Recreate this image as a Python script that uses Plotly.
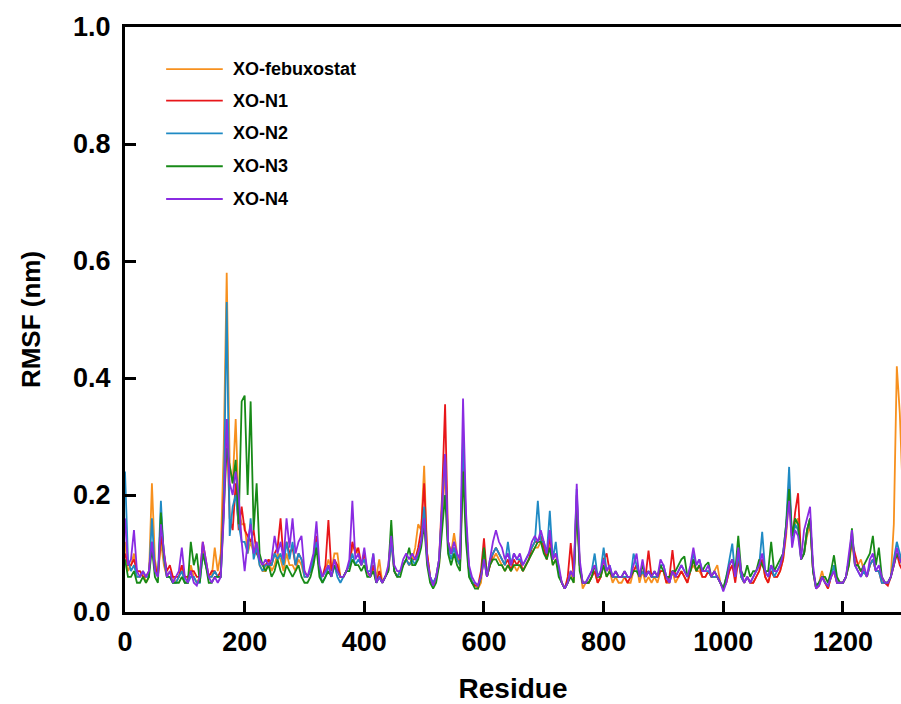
import plotly.graph_objects as go

# Residue grid (every 5th residue)
residue = list(range(0, 1301, 5))

series_names = ["XO-febuxostat", "XO-N1", "XO-N2", "XO-N3", "XO-N4"]
series_colors = ["#F7901E", "#E8161A", "#1F8AC4", "#178A17", "#8A2BE2"]

rmsf_febuxostat = [
    0.12,0.07,0.08,0.10,0.06,0.06,0.07,0.05,0.06,0.22,0.09,0.06,0.12,0.08,0.06,0.07,0.06,0.05,0.06,0.08,
    0.05,0.05,0.08,0.06,0.05,0.06,0.11,0.08,0.06,0.06,0.11,0.07,0.10,0.28,0.58,0.25,0.22,0.33,0.18,0.15,
    0.15,0.10,0.12,0.10,0.12,0.08,0.07,0.07,0.09,0.07,0.08,0.10,0.09,0.07,0.10,0.08,0.08,0.07,0.09,0.08,
    0.06,0.06,0.07,0.09,0.12,0.07,0.06,0.07,0.09,0.07,0.10,0.10,0.06,0.06,0.07,0.08,0.11,0.11,0.10,0.08,
    0.09,0.07,0.06,0.08,0.06,0.09,0.05,0.06,0.07,0.12,0.07,0.06,0.07,0.08,0.09,0.08,0.09,0.11,0.15,0.14,
    0.25,0.10,0.06,0.045,0.06,0.08,0.16,0.24,0.12,0.10,0.135,0.10,0.08,0.26,0.14,0.07,0.05,0.045,0.04,0.05,
    0.10,0.06,0.08,0.09,0.10,0.09,0.08,0.07,0.08,0.07,0.08,0.07,0.08,0.07,0.08,0.09,0.10,0.11,0.11,0.12,
    0.11,0.09,0.12,0.08,0.09,0.07,0.05,0.04,0.05,0.07,0.05,0.19,0.08,0.04,0.05,0.05,0.06,0.07,0.05,0.06,
    0.08,0.06,0.07,0.05,0.06,0.05,0.05,0.06,0.05,0.05,0.07,0.08,0.05,0.07,0.05,0.06,0.05,0.06,0.05,0.07,
    0.07,0.05,0.05,0.07,0.05,0.06,0.07,0.06,0.05,0.07,0.08,0.07,0.07,0.06,0.06,0.07,0.06,0.07,0.08,0.05,
    0.04,0.05,0.07,0.08,0.06,0.09,0.06,0.05,0.06,0.05,0.05,0.06,0.07,0.09,0.06,0.05,0.07,0.06,0.06,0.07,
    0.09,0.13,0.20,0.12,0.15,0.16,0.09,0.10,0.13,0.15,0.07,0.04,0.05,0.07,0.05,0.04,0.06,0.07,0.05,0.05,
    0.05,0.06,0.08,0.12,0.08,0.08,0.09,0.07,0.06,0.08,0.09,0.07,0.07,0.06,0.05,0.05,0.06,0.15,0.42,0.34,
    0.20,
]

rmsf_n1 = [
    0.10,0.08,0.08,0.09,0.07,0.07,0.06,0.06,0.07,0.12,0.08,0.06,0.13,0.10,0.07,0.08,0.06,0.06,0.06,0.08,
    0.06,0.06,0.07,0.07,0.06,0.06,0.12,0.09,0.06,0.07,0.07,0.06,0.07,0.20,0.33,0.16,0.14,0.22,0.14,0.18,
    0.14,0.13,0.12,0.14,0.10,0.09,0.08,0.08,0.09,0.08,0.10,0.11,0.16,0.09,0.12,0.10,0.11,0.08,0.10,0.09,
    0.07,0.06,0.07,0.09,0.13,0.07,0.06,0.08,0.157,0.07,0.09,0.08,0.06,0.06,0.07,0.08,0.12,0.10,0.11,0.08,
    0.10,0.07,0.06,0.08,0.05,0.07,0.05,0.06,0.07,0.13,0.07,0.06,0.07,0.08,0.09,0.08,0.09,0.09,0.11,0.14,
    0.22,0.10,0.06,0.045,0.06,0.09,0.20,0.355,0.12,0.10,0.11,0.09,0.08,0.28,0.15,0.07,0.05,0.045,0.045,0.07,
    0.126,0.06,0.08,0.10,0.11,0.10,0.09,0.08,0.09,0.07,0.09,0.08,0.09,0.07,0.08,0.09,0.11,0.12,0.12,0.13,
    0.11,0.09,0.13,0.09,0.10,0.07,0.05,0.04,0.06,0.118,0.06,0.20,0.08,0.05,0.05,0.05,0.06,0.07,0.05,0.06,
    0.09,0.10,0.07,0.06,0.06,0.06,0.06,0.06,0.05,0.06,0.07,0.08,0.06,0.07,0.06,0.105,0.06,0.06,0.06,0.07,
    0.07,0.05,0.06,0.106,0.06,0.06,0.07,0.06,0.05,0.07,0.09,0.07,0.08,0.06,0.06,0.07,0.06,0.06,0.06,0.05,
    0.04,0.05,0.07,0.08,0.05,0.09,0.06,0.05,0.06,0.05,0.05,0.06,0.07,0.09,0.06,0.05,0.07,0.06,0.06,0.07,
    0.09,0.14,0.22,0.12,0.17,0.203,0.09,0.10,0.14,0.16,0.07,0.04,0.045,0.06,0.05,0.04,0.06,0.07,0.05,0.05,
    0.05,0.06,0.09,0.12,0.10,0.08,0.07,0.07,0.06,0.08,0.09,0.07,0.07,0.05,0.05,0.045,0.06,0.08,0.10,0.08,
    0.07,
]

rmsf_n2 = [
    0.24,0.09,0.07,0.08,0.06,0.06,0.07,0.06,0.06,0.16,0.07,0.06,0.19,0.09,0.06,0.06,0.05,0.05,0.06,0.07,
    0.05,0.05,0.06,0.06,0.05,0.05,0.10,0.08,0.06,0.06,0.07,0.06,0.06,0.18,0.53,0.13,0.18,0.20,0.15,0.12,
    0.12,0.10,0.16,0.09,0.11,0.08,0.07,0.08,0.08,0.08,0.10,0.09,0.10,0.08,0.12,0.09,0.12,0.08,0.10,0.09,
    0.06,0.06,0.07,0.09,0.12,0.07,0.05,0.06,0.08,0.06,0.08,0.06,0.05,0.06,0.07,0.08,0.10,0.08,0.09,0.08,
    0.09,0.07,0.07,0.10,0.05,0.06,0.05,0.06,0.07,0.12,0.07,0.06,0.07,0.08,0.09,0.08,0.09,0.08,0.10,0.12,
    0.18,0.09,0.06,0.05,0.06,0.09,0.18,0.27,0.11,0.09,0.11,0.09,0.08,0.30,0.15,0.07,0.05,0.05,0.045,0.06,
    0.09,0.06,0.09,0.10,0.11,0.10,0.09,0.08,0.12,0.08,0.10,0.09,0.09,0.08,0.09,0.10,0.11,0.12,0.19,0.12,
    0.12,0.10,0.173,0.09,0.12,0.07,0.05,0.04,0.05,0.07,0.06,0.21,0.08,0.05,0.05,0.06,0.07,0.10,0.06,0.07,
    0.11,0.07,0.08,0.06,0.06,0.06,0.06,0.06,0.06,0.06,0.10,0.08,0.06,0.07,0.06,0.07,0.06,0.06,0.06,0.08,
    0.08,0.06,0.05,0.07,0.06,0.07,0.08,0.07,0.06,0.07,0.10,0.08,0.09,0.07,0.07,0.07,0.06,0.06,0.06,0.05,
    0.04,0.06,0.09,0.117,0.06,0.10,0.06,0.05,0.06,0.05,0.06,0.07,0.08,0.137,0.07,0.06,0.08,0.06,0.07,0.08,
    0.10,0.15,0.248,0.12,0.15,0.14,0.09,0.10,0.14,0.16,0.07,0.04,0.05,0.06,0.05,0.045,0.06,0.08,0.05,0.05,
    0.05,0.06,0.09,0.13,0.08,0.07,0.06,0.07,0.06,0.08,0.09,0.07,0.07,0.05,0.05,0.05,0.06,0.09,0.12,0.10,
    0.08,
]

rmsf_n3 = [
    0.09,0.06,0.06,0.07,0.05,0.05,0.06,0.05,0.06,0.11,0.06,0.05,0.17,0.10,0.06,0.06,0.05,0.05,0.05,0.06,
    0.05,0.05,0.12,0.08,0.10,0.05,0.10,0.08,0.05,0.05,0.06,0.06,0.06,0.17,0.28,0.25,0.22,0.26,0.15,0.36,
    0.37,0.20,0.36,0.14,0.22,0.10,0.08,0.07,0.08,0.06,0.07,0.09,0.07,0.06,0.08,0.07,0.06,0.07,0.08,0.06,
    0.05,0.05,0.06,0.08,0.11,0.06,0.05,0.06,0.07,0.06,0.08,0.07,0.06,0.06,0.07,0.07,0.09,0.08,0.08,0.07,
    0.08,0.06,0.06,0.07,0.05,0.06,0.05,0.06,0.07,0.157,0.07,0.06,0.06,0.08,0.09,0.11,0.08,0.08,0.09,0.11,
    0.15,0.08,0.05,0.04,0.05,0.08,0.14,0.20,0.10,0.08,0.10,0.08,0.07,0.24,0.12,0.06,0.05,0.04,0.04,0.06,
    0.11,0.06,0.08,0.09,0.09,0.08,0.08,0.07,0.08,0.07,0.08,0.08,0.08,0.07,0.08,0.09,0.10,0.11,0.12,0.12,
    0.10,0.09,0.11,0.08,0.09,0.06,0.05,0.04,0.05,0.06,0.05,0.18,0.07,0.05,0.05,0.05,0.06,0.08,0.06,0.06,
    0.08,0.06,0.07,0.06,0.07,0.06,0.06,0.07,0.06,0.06,0.07,0.07,0.06,0.08,0.06,0.07,0.06,0.07,0.06,0.08,
    0.07,0.06,0.06,0.07,0.07,0.08,0.09,0.095,0.06,0.07,0.09,0.07,0.08,0.07,0.08,0.085,0.06,0.07,0.06,0.05,
    0.04,0.06,0.08,0.09,0.07,0.13,0.07,0.06,0.08,0.06,0.07,0.07,0.09,0.08,0.07,0.07,0.12,0.07,0.08,0.09,
    0.10,0.15,0.21,0.13,0.16,0.15,0.09,0.10,0.14,0.16,0.07,0.045,0.05,0.06,0.06,0.05,0.07,0.097,0.06,0.05,
    0.05,0.06,0.08,0.143,0.08,0.08,0.07,0.08,0.09,0.10,0.13,0.08,0.11,0.06,0.05,0.05,0.06,0.08,0.10,0.09,
    0.08,
]

rmsf_n4 = [
    0.16,0.08,0.09,0.14,0.07,0.06,0.07,0.06,0.07,0.12,0.07,0.06,0.15,0.10,0.06,0.07,0.05,0.06,0.07,0.11,
    0.06,0.05,0.07,0.05,0.045,0.06,0.12,0.09,0.06,0.05,0.06,0.05,0.06,0.16,0.33,0.22,0.20,0.24,0.20,0.12,
    0.07,0.12,0.15,0.10,0.12,0.09,0.08,0.09,0.08,0.09,0.13,0.10,0.12,0.09,0.16,0.11,0.16,0.10,0.12,0.13,
    0.07,0.06,0.08,0.10,0.155,0.08,0.06,0.07,0.08,0.06,0.09,0.07,0.06,0.06,0.07,0.09,0.19,0.09,0.10,0.08,
    0.11,0.07,0.06,0.10,0.05,0.06,0.05,0.06,0.08,0.13,0.08,0.07,0.07,0.09,0.10,0.09,0.10,0.09,0.10,0.12,
    0.16,0.09,0.06,0.045,0.06,0.09,0.18,0.27,0.12,0.10,0.12,0.10,0.09,0.365,0.17,0.08,0.06,0.05,0.045,0.06,
    0.09,0.06,0.09,0.12,0.14,0.12,0.11,0.09,0.10,0.08,0.10,0.09,0.10,0.08,0.09,0.10,0.12,0.13,0.12,0.14,
    0.12,0.10,0.14,0.09,0.10,0.08,0.05,0.04,0.05,0.07,0.06,0.219,0.09,0.05,0.05,0.06,0.07,0.08,0.06,0.07,
    0.09,0.07,0.08,0.06,0.07,0.06,0.06,0.07,0.06,0.06,0.08,0.10,0.06,0.09,0.06,0.07,0.06,0.07,0.06,0.09,
    0.08,0.06,0.05,0.07,0.06,0.07,0.08,0.07,0.06,0.08,0.11,0.08,0.09,0.07,0.07,0.08,0.06,0.07,0.06,0.05,
    0.035,0.05,0.08,0.09,0.06,0.11,0.07,0.05,0.06,0.05,0.06,0.07,0.08,0.10,0.07,0.06,0.08,0.07,0.07,0.08,
    0.10,0.14,0.19,0.11,0.14,0.13,0.09,0.14,0.16,0.18,0.08,0.04,0.045,0.06,0.05,0.045,0.06,0.07,0.05,0.05,
    0.05,0.06,0.10,0.14,0.08,0.07,0.06,0.08,0.06,0.09,0.10,0.07,0.08,0.06,0.05,0.05,0.06,0.08,0.11,0.09,
    0.08,
]

x_ticks = [0, 200, 400, 600, 800, 1000, 1200]
y_ticks = [0.0, 0.2, 0.4, 0.6, 0.8, 1.0]
y_ticktext = ["0.0", "0.2", "0.4", "0.6", "0.8", "1.0"]

all_series = [rmsf_febuxostat, rmsf_n1, rmsf_n2, rmsf_n3, rmsf_n4]
for s in all_series:
    assert len(s) == len(residue), len(s)

FONT = "Arial, 'Liberation Sans', sans-serif"

fig = go.Figure()
for name, color, vals in zip(series_names, series_colors, all_series):
    fig.add_trace(go.Scatter(
        x=residue, y=vals, mode="lines", name=name,
        line=dict(color=color, width=1.8), showlegend=False,
    ))

# Manual legend (long line samples like the original)
legend_y = [0.928, 0.874, 0.818, 0.762, 0.706]
for name, color, ly in zip(series_names, series_colors, legend_y):
    fig.add_shape(type="line", xref="paper", yref="paper",
                  x0=0.053, x1=0.126, y0=ly, y1=ly,
                  line=dict(color=color, width=1.8))
    fig.add_annotation(xref="paper", yref="paper", x=0.137, y=ly,
                       text=name, showarrow=False, xanchor="left", yanchor="middle",
                       font=dict(family=FONT, size=18, color="black", weight="bold"))

fig.update_layout(
    width=901, height=704,
    margin=dict(l=125, r=0, t=27, b=92, pad=0, autoexpand=False),
    paper_bgcolor="white", plot_bgcolor="white",
    font=dict(family=FONT, color="black"),
)

fig.update_xaxes(
    range=[0, 1297], tickvals=x_ticks, automargin=False,
    showline=True, linewidth=3, linecolor="black", mirror=True,
    ticks="inside", ticklen=11, tickwidth=3, tickcolor="black",
    showgrid=False, zeroline=False,
    tickfont=dict(family=FONT, size=27, color="black", weight="bold"),
    ticklabelstandoff=4,
    title=dict(text="Residue", standoff=22,
               font=dict(family=FONT, size=28, color="black", weight="bold")),
)
fig.update_yaxes(
    range=[0, 1.0], tickvals=y_ticks, ticktext=y_ticktext, automargin=False,
    showline=True, linewidth=3, linecolor="black", mirror=False,
    ticks="inside", ticklen=11, tickwidth=3, tickcolor="black",
    showgrid=False, zeroline=False,
    tickfont=dict(family=FONT, size=27, color="black", weight="bold"),
    ticklabelstandoff=6,
    title=dict(text="RMSF (nm)", standoff=25,
               font=dict(family=FONT, size=26, color="black", weight="bold")),
)

# Remove the default page margin so the 901x704 figure fills the window exactly
fig.write_html(
    "out.html",
    config={"displayModeBar": False},
    post_script="document.body.style.margin='0';document.body.style.overflow='hidden';",
)
